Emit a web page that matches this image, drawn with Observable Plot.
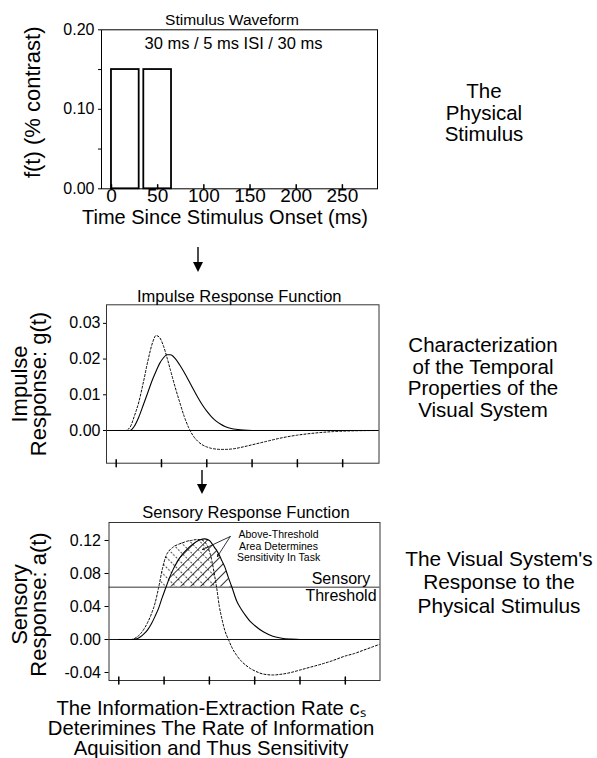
<!DOCTYPE html>
<html><head><meta charset="utf-8">
<script src="https://cdn.jsdelivr.net/npm/d3@7"></script>
<script src="https://cdn.jsdelivr.net/npm/@observablehq/plot@0.6"></script>
<style>
html,body{margin:0;padding:0;background:#fff;}
#fig{position:relative;width:597px;height:758px;font-family:"Liberation Sans",Arial,Helvetica,sans-serif;color:#000;overflow:hidden;}
.panel{position:absolute;left:0;}
.note{position:absolute;text-align:center;white-space:nowrap;font-size:20.5px;}
</style></head><body>
<svg width="0" height="0" style="position:absolute">
<defs>
<pattern id="hatchSolid" patternUnits="userSpaceOnUse" width="7" height="7" patternTransform="rotate(45)"><line x1="3.5" y1="0" x2="3.5" y2="7" stroke="#000" stroke-width="0.8"/></pattern>
<pattern id="hatchDotted" patternUnits="userSpaceOnUse" width="7" height="7" patternTransform="rotate(-45)"><line x1="3.5" y1="0" x2="3.5" y2="7" stroke="#000" stroke-width="0.8" stroke-dasharray="1.75,1.75"/></pattern>
</defs></svg>
<div id="fig">
  <div class="note" style="left:384px;width:200px;top:80px;line-height:21.7px;">The<br>Physical<br>Stimulus</div>
  <div class="note" style="left:383px;width:200px;top:334px;line-height:21.7px;">Characterization<br>of the Temporal<br>Properties of the<br>Visual System</div>
  <div class="note" style="left:399px;width:200px;top:547px;line-height:23.3px;font-size:20.8px;">The Visual System's<br>Response to the<br>Physical Stimulus</div>
  <div class="note" style="left:11px;width:400px;top:697.5px;line-height:20px;font-size:20.3px;">The Information-Extraction Rate cₛ<br>Deterimines The Rate of Information<br>Aquisition and Thus Sensitivity</div>
  <svg style="position:absolute;left:190px;top:246px;z-index:5" width="16" height="28"><line x1="8" y1="1" x2="8" y2="18" stroke="#000" stroke-width="1.4"/><polygon points="3,16 13,16 8,26" fill="#000"/></svg>
  <svg style="position:absolute;left:194px;top:469px;z-index:5" width="16" height="28"><line x1="8" y1="1" x2="8" y2="17" stroke="#000" stroke-width="1.4"/><polygon points="3,15 13,15 8,25" fill="#000"/></svg>
</div>
<script>
// ---------- data ----------
// Panel 1: stimulus waveform (two 30 ms pulses, 5 ms ISI)
const stimStart = [0, 35];
const stimEnd = [30, 65];
const stimContrast = [0.15, 0.15];
const stimXTicks = [0, 50, 100, 150, 200, 250];
const stimYTicks = [0, 0.1, 0.2];
const stimYMinor = [0.05, 0.15];

// Panel 2: impulse response functions
const impulseT = [0,10,15,20,25,30,35,40,44,48,52,56,60,65,70,75,80,85,90,95,100,105,110,115,120,130,140,150,165,180,200,220,240,260,290];
const impulseSolid = [0,0,0,0.0012,0.0038,0.0072,0.0107,0.0142,0.0166,0.0188,0.0203,0.0212,0.0212,0.0202,0.0184,0.0163,0.0140,0.0116,0.0093,0.0072,0.0054,0.0039,0.0027,0.0018,0.0011,0.0004,0.0001,0,0,0,0,0,0,0,0];
const impulseDashed = [0,0,0.0008,0.0040,0.0080,0.0135,0.0195,0.0245,0.0266,0.0260,0.0238,0.0205,0.0168,0.0122,0.0080,0.0040,0.0008,-0.0015,-0.0030,-0.0040,-0.0046,-0.0050,-0.0052,-0.0053,-0.0053,-0.0051,-0.0046,-0.0040,-0.0031,-0.0022,-0.0013,-0.0007,-0.0003,-0.0001,0];
const impulseYTicks = [0, 0.01, 0.02, 0.03];

// Panel 3: sensory response functions
const sensoryT = [0,14,20,24,28,32,36,40,44,48,52,56,60,65,70,75,80,85,90,95,100,103,106,108,111,114,117,121,125,130,135,140,145,150,160,170,180,190,200,210,220,235,250,260,270,280,290];
const sensorySolid = [0,0,0.001,0.0033,0.007,0.012,0.019,0.028,0.038,0.051,0.063,0.075,0.085,0.095,0.103,0.109,0.114,0.118,0.121,0.122,0.120,0.116,0.111,0.108,0.102,0.095,0.088,0.075,0.063,0.047,0.037,0.029,0.022,0.017,0.009,0.004,0.0015,0.0005,0,0,0,0,0,0,0,0,0];
const sensoryDashed = [0,0,0.003,0.007,0.013,0.021,0.031,0.044,0.063,0.085,0.101,0.108,0.112,0.115,0.117,0.119,0.120,0.121,0.121,0.118,0.107,0.094,0.076,0.063,0.040,0.024,0.011,0,-0.010,-0.019,-0.026,-0.031,-0.035,-0.038,-0.042,-0.043,-0.042,-0.040,-0.037,-0.034,-0.031,-0.026,-0.020,-0.017,-0.013,-0.009,-0.005];
const sensoryThreshold = 0.0634;
const sensoryYTicks = [-0.04, 0, 0.04, 0.08, 0.12];
const timeTicks = [0, 50, 100, 150, 200, 250];

// annotation pointers (data coordinates: ms, response)
const pointerFrom = [[123, 0.1248], [123, 0.1248]];
const pointerTo = [[92.4, 0.109], [108.9, 0.1006]];

// ---------- tables ----------
const pulses = stimStart.map((s, i) => ({start: s, end: stimEnd[i], contrast: stimContrast[i]}));
const impulse = impulseT.map((t, i) => ({t, solid: impulseSolid[i], dashed: impulseDashed[i]}));
const sensory = sensoryT.map((t, i) => ({t, solid: sensorySolid[i], dashed: sensoryDashed[i]}));
const pointers = pointerFrom.map((f, i) => ({t1: f[0], v1: f[1], t2: pointerTo[i][0], v2: pointerTo[i][1]}));

const font = '"Liberation Sans", Arial, Helvetica, sans-serif';
const baseStyle = {fontFamily: font, background: "transparent", overflow: "visible", color: "#000"};
const tickShape = {draw(ctx, l) { ctx.moveTo(0, 0); ctx.lineTo(0, -l); }};
const fmt2 = d => d.toFixed(2);
const fig = document.getElementById("fig");
function place(el, top) { el.classList.add("panel"); el.style.top = top + "px"; fig.appendChild(el); }

// ---------- panel 1 ----------
const p1 = Plot.plot({
  width: 400, height: 230,
  marginLeft: 101, marginRight: 23, marginTop: 29.3, marginBottom: 41.7,
  x: {domain: [-10.8, 288]},
  y: {domain: [0, 0.2]},
  style: baseStyle,
  marks: [
    Plot.rectY(pulses, {x1: "start", x2: "end", y: "contrast", fill: "white", stroke: "#000", strokeWidth: 1.8}),
    Plot.frame({stroke: "#000", strokeWidth: 1}),
    Plot.axisY({ticks: stimYTicks, tickSize: 3, tickPadding: 4, tickFormat: fmt2, fontSize: 16, label: null}),
    Plot.axisY({ticks: stimYMinor, tickSize: 3, tickFormat: () => "", label: null}),
    Plot.vector(stimXTicks, {x: d => d, frameAnchor: "bottom", length: 4, anchor: "start", shape: tickShape, stroke: "#000"}),
    Plot.axisX({ticks: stimXTicks, tickSize: 0, tickPadding: 0, fontSize: 19, label: null}),
    Plot.text(["Time Since Stimulus Onset (ms)"], {frameAnchor: "bottom", lineAnchor: "middle", dy: 29, dx: -14.5, fontSize: 20}),
    Plot.text(["f(t) (% contrast)"], {frameAnchor: "left", rotate: -90, textAnchor: "middle", lineAnchor: "middle", dx: -69, dy: -7, fontSize: 22}),
    Plot.text(["Stimulus Waveform"], {frameAnchor: "top", lineAnchor: "middle", dy: -10, dx: -7.5, fontSize: 15.5}),
    Plot.text(["30 ms / 5 ms ISI / 30 ms"], {frameAnchor: "top", lineAnchor: "middle", dy: 14, dx: -6, fontSize: 16.5})
  ]
});
place(p1, 0);

// ---------- panel 2 ----------
const p2 = Plot.plot({
  width: 400, height: 200,
  marginLeft: 106, marginRight: 21.5, marginTop: 24.3, marginBottom: 17.3,
  x: {domain: [-10.7, 290.1], axis: null},
  y: {domain: [-0.00916, 0.0352]},
  style: baseStyle,
  marks: [
    Plot.ruleY([0], {stroke: "#000", strokeWidth: 1}),
    Plot.line(impulse, {x: "t", y: "dashed", curve: "monotone-x", stroke: "#000", strokeWidth: 1, strokeDasharray: "2,2", clip: true}),
    Plot.line(impulse, {x: "t", y: "solid", curve: "monotone-x", stroke: "#000", strokeWidth: 1.1, clip: true}),
    Plot.frame({stroke: "#333", strokeWidth: 1}),
    Plot.axisY({ticks: impulseYTicks, tickSize: 3, tickPadding: 3, tickFormat: fmt2, fontSize: 16, label: null}),
    Plot.vector(timeTicks, {x: d => d, frameAnchor: "bottom", length: 7, anchor: "middle", shape: tickShape, stroke: "#000"}),
    Plot.text(["Impulse\nResponse: g(t)"], {frameAnchor: "left", rotate: -90, textAnchor: "middle", lineAnchor: "middle", lineHeight: 0.86, dx: -76.5, fontSize: 22}),
    Plot.text(["Impulse Response Function"], {frameAnchor: "top", lineAnchor: "middle", dy: -8.5, dx: -3.5, fontSize: 16.5})
  ]
});
place(p2, 280);

// ---------- panel 3 ----------
const p3 = Plot.plot({
  width: 400, height: 200,
  marginLeft: 108.5, marginRight: 20.5, marginTop: 27, marginBottom: 15,
  x: {domain: [-10.8, 288.3], axis: null},
  y: {domain: [-0.0497, 0.1418]},
  style: baseStyle,
  marks: [
    Plot.areaY(sensory, {x: "t", y1: sensoryThreshold, y2: d => Math.max(d.dashed, sensoryThreshold), curve: "monotone-x", fill: "url(#hatchDotted)", clip: true}),
    Plot.areaY(sensory, {x: "t", y1: sensoryThreshold, y2: d => Math.max(d.solid, sensoryThreshold), curve: "monotone-x", fill: "url(#hatchSolid)", clip: true}),
    Plot.ruleY([0], {stroke: "#111", strokeWidth: 1}),
    Plot.ruleY([sensoryThreshold], {stroke: "#777", strokeWidth: 1.6}),
    Plot.line(sensory, {x: "t", y: "dashed", curve: "monotone-x", stroke: "#000", strokeWidth: 1, strokeDasharray: "2,2", clip: true}),
    Plot.line(sensory, {x: "t", y: "solid", curve: "monotone-x", stroke: "#000", strokeWidth: 1.1, clip: true}),
    Plot.arrow(pointers, {x1: "t1", y1: "v1", x2: "t2", y2: "v2", headLength: 4, strokeWidth: 0.8, stroke: "#000"}),
    Plot.frame({stroke: "#333", strokeWidth: 1}),
    Plot.axisY({ticks: sensoryYTicks, tickSize: 4, tickPadding: 4, tickFormat: fmt2, fontSize: 16, label: null}),
    Plot.vector(timeTicks, {x: d => d, frameAnchor: "bottom", length: 7, anchor: "middle", shape: tickShape, stroke: "#000"}),
    Plot.text([{label: "Sensory\nThreshold", v: sensoryThreshold}], {y: "v", text: "label", frameAnchor: "right", textAnchor: "middle", lineAnchor: "middle", lineHeight: 1.06, dx: -39, fontSize: 16}),
    Plot.text(["Above-Threshold\nArea Determines\nSensitivity In Task"], {frameAnchor: "top", textAnchor: "middle", lineAnchor: "middle", lineHeight: 1.1, dx: 34, dy: 23.5, fontSize: 10.5}),
    Plot.text(["Sensory\nResponse: a(t)"], {frameAnchor: "left", rotate: -90, textAnchor: "middle", lineAnchor: "middle", lineHeight: 0.86, dx: -78.5, dy: 3, fontSize: 22}),
    Plot.text(["Sensory Response Function"], {frameAnchor: "top", lineAnchor: "middle", dy: -9.5, dx: 1.5, fontSize: 16.5})
  ]
});
place(p3, 495);
</script>
</body></html>
